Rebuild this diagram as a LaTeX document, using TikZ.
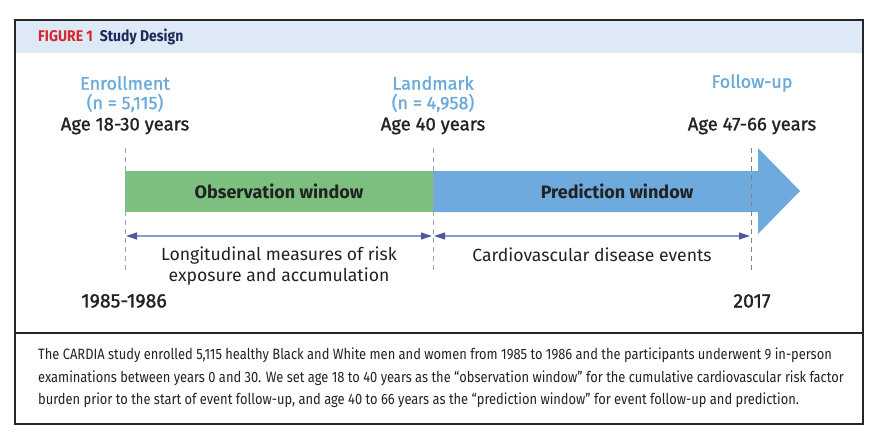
\documentclass[tikz,border=0pt]{standalone}
\usepackage{fontspec}
\setmainfont{Fira Sans}
\newfontfamily\capfont[FakeStretch=0.86]{Fira Sans}
\newfontfamily\headfont[FakeStretch=0.9]{Fira Sans}
\newfontfamily\medfont[FakeBold=1.2]{Fira Sans}
\usetikzlibrary{positioning,arrows.meta,calc}

\definecolor{headblue}{HTML}{DDE9F6}
\definecolor{figred}{HTML}{D7262E}
\definecolor{navy}{HTML}{1B2A57}
\definecolor{phaseblue}{HTML}{6AABD9}
\definecolor{obsgreen}{HTML}{7DBF7F}
\definecolor{predblue}{HTML}{6FAADE}
\definecolor{ink}{HTML}{222222}
\definecolor{spanline}{HTML}{8B9ACB}
\definecolor{spantip}{HTML}{4B5A9C}
\definecolor{guidegray}{HTML}{9AA3AE}

\begin{document}
\begin{tikzpicture}[
  x=1pt, y=-1pt,
  phase/.style={font=\medfont\fontsize{18}{20}\selectfont, text=phaseblue, inner sep=0pt},
  age/.style={font=\medfont\fontsize{18.5}{20}\selectfont, text=ink, inner sep=0pt},
  year/.style={font=\medfont\fontsize{19.5}{22}\selectfont, text=ink, inner sep=0pt},
  barlabel/.style={font=\bfseries\fontsize{18}{20}\selectfont, text=ink, inner sep=0pt},
  note/.style={font=\fontsize{17.6}{21}\selectfont, text=ink, inner sep=0pt, align=center},
  guide/.style={dashed, guidegray, line width=0.8pt, dash pattern=on 5pt off 4pt},
  span/.style={{Triangle[length=11pt,width=7pt,color=spantip]}-{Triangle[length=11pt,width=7pt,color=spantip]}, spanline, line width=1.2pt}
]
\useasboundingbox (0,0) rectangle (876,436);

% Frame and header
\fill[headblue] (15,20) rectangle (863,53);
\draw[line width=1.4pt, black!85] (15,20) rectangle (863,424);
\draw[line width=1.4pt, black!85] (15,333) -- (863,333);
\node[anchor=west, inner sep=0pt, font=\headfont\bfseries\fontsize{15.5}{17}\selectfont] (title) at (38,37)
  {\textcolor{figred}{FIGURE 1}\hspace{7pt}\textcolor{navy}{Study Design}};

% Time points
\coordinate (enroll) at (125,148);
\coordinate (landmark) at (433,148);
\coordinate (follow) at (751,148);

\node[phase] (enroll_name) at (125,83) {Enrollment};
\node[phase] (enroll_n) at (125,103) {(n = 5,115)};
\node[age] (enroll_age) at (125,126) {Age 18-30 years};

\node[phase] (land_name) at (433,83) {Landmark};
\node[phase] (land_n) at (433,103) {(n = 4,958)};
\node[age] (land_age) at (433,126) {Age 40 years};

\node[phase] (follow_name) at (752,83) {Follow-up};
\node[age] (follow_age) at (752,126) {Age 47-66 years};

% Windows
\fill[obsgreen] (125,171) rectangle (433,212);
\fill[predblue] (433,171) -- (758,171) -- (758,148) -- (800,191)
  -- (758,234) -- (758,212) -- (433,212) -- cycle;
\node[barlabel] (obs) at (279,191) {Observation window};
\node[barlabel] (pred) at (617,191) {Prediction window};

% Guides
\draw[guide] (enroll) -- ++(0,124) coordinate (enroll_end);
\draw[guide] (landmark) -- ++(0,124) coordinate (land_end);
\draw[guide, guidegray!80!black] (follow) -- ++(0,124) coordinate (follow_end);

% Spans
\coordinate (s1) at (126,236);
\coordinate (s2) at (432,236);
\coordinate (s3) at (434,236);
\coordinate (s4) at (750,236);
\draw[span] (s1) -- (s2);
\draw[span] (s3) -- (s4);
\node[note] (longit) at (279,266) {Longitudinal measures of risk\\exposure and accumulation};
\node[note] (cvd) at (592,255) {Cardiovascular disease events};

% Years
\node[year] (y1) at (124,301) {1985-1986};
\node[year] (y2) at (752,301) {2017};

% Caption
\node[anchor=north west, inner sep=0pt, align=left, text=ink,
      font=\capfont\fontsize{15}{22.5}\selectfont] (caption) at (38,348)
  {The CARDIA study enrolled 5,115 healthy Black and White men and women from 1985 to 1986 and the participants underwent 9 in-person\\
   examinations between years 0 and 30. We set age 18 to 40 years as the “observation window” for the cumulative cardiovascular risk factor\\
   burden prior to the start of event follow-up, and age 40 to 66 years as the “prediction window” for event follow-up and prediction.};
\end{tikzpicture}
\end{document}
